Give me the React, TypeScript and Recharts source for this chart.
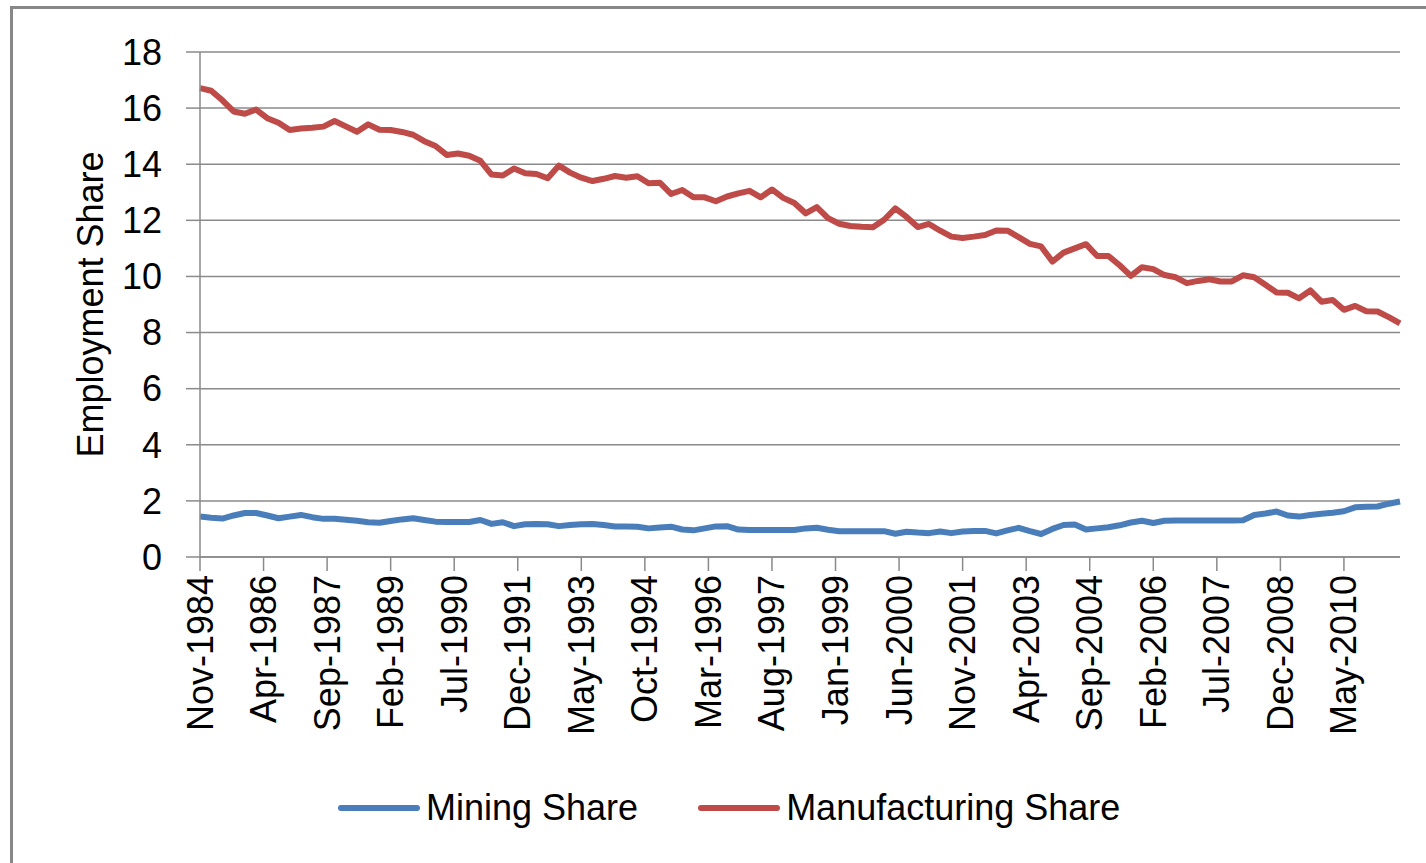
import React from 'react';
import {
  LineChart,
  Line,
  XAxis,
  YAxis,
  CartesianGrid,
  Legend,
} from 'recharts';

// quarterly readings, first point Nov-1984, last Aug-2011
const miningShare = [
  1.44, 1.40, 1.37, 1.48, 1.57, 1.57, 1.48, 1.38, 1.44, 1.50,
  1.42, 1.36, 1.36, 1.33, 1.29, 1.24, 1.22, 1.28, 1.34, 1.38,
  1.32, 1.26, 1.25, 1.25, 1.25, 1.32, 1.18, 1.24, 1.10, 1.17,
  1.18, 1.17, 1.10, 1.14, 1.17, 1.18, 1.14, 1.09, 1.09, 1.08,
  1.02, 1.05, 1.08, 0.98, 0.95, 1.02, 1.09, 1.10, 0.98, 0.96,
  0.96, 0.96, 0.96, 0.96, 1.02, 1.04, 0.97, 0.92, 0.92, 0.92,
  0.92, 0.92, 0.83, 0.90, 0.87, 0.85, 0.91, 0.85, 0.91, 0.93,
  0.93, 0.84, 0.95, 1.04, 0.92, 0.82, 1.00, 1.14, 1.16, 0.98,
  1.02, 1.06, 1.13, 1.23, 1.29, 1.21, 1.29, 1.30, 1.30, 1.30,
  1.30, 1.30, 1.30, 1.31, 1.50, 1.55, 1.62, 1.48, 1.44, 1.50,
  1.54, 1.58, 1.63, 1.77, 1.79, 1.80, 1.90, 1.98,
];

const manufacturingShare = [
  16.71, 16.62, 16.28, 15.88, 15.80, 15.95, 15.64, 15.48, 15.22, 15.27,
  15.30, 15.34, 15.54, 15.35, 15.16, 15.42, 15.23, 15.22, 15.15, 15.05,
  14.82, 14.65, 14.33, 14.38, 14.30, 14.12, 13.63, 13.60, 13.85, 13.68,
  13.65, 13.50, 13.95, 13.70, 13.52, 13.40, 13.48, 13.58, 13.52, 13.57,
  13.32, 13.34, 12.94, 13.08, 12.82, 12.82, 12.68, 12.85, 12.96, 13.05,
  12.82, 13.10, 12.80, 12.62, 12.25, 12.47, 12.08, 11.88, 11.80, 11.77,
  11.75, 12.02, 12.43, 12.12, 11.76, 11.87, 11.63, 11.42, 11.37, 11.42,
  11.48, 11.64, 11.63, 11.40, 11.16, 11.07, 10.53, 10.85, 11.00, 11.15,
  10.73, 10.73, 10.40, 10.02, 10.33, 10.26, 10.05, 9.97, 9.76, 9.84,
  9.90, 9.82, 9.82, 10.04, 9.97, 9.70, 9.43, 9.42, 9.22, 9.50,
  9.10, 9.16, 8.81, 8.95, 8.76, 8.75, 8.55, 8.33,
];

const tickLabels = [
  'Nov-1984', 'Apr-1986', 'Sep-1987', 'Feb-1989', 'Jul-1990', 'Dec-1991',
  'May-1993', 'Oct-1994', 'Mar-1996', 'Aug-1997', 'Jan-1999', 'Jun-2000',
  'Nov-2001', 'Apr-2003', 'Sep-2004', 'Feb-2006', 'Jul-2007', 'Dec-2008',
  'May-2010',
];
const seriesNames = ['Mining Share', 'Manufacturing Share'];
const labelEvery = 17; // months between labels
const stepMonths = 3; // months between data points
const yTicks = [0, 2, 4, 6, 8, 10, 12, 14, 16, 18];

const data = miningShare.map((v, i) => ({
  month: i * stepMonths,
  mining: v,
  manufacturing: manufacturingShare[i],
}));
const xTicks = tickLabels.map((_, k) => k * labelEvery);
const lastMonth = (miningShare.length - 1) * stepMonths;

const FONT = "'Liberation Sans', Arial, sans-serif";
const GRID = '#8a8a8a';
const BLUE = '#4A7EBB';
const RED = '#BE4B48';

const XTick = ({ x, y, payload }: any) => {
  const label = tickLabels[Math.round(payload.value / labelEvery)];
  return (
    <text
      x={x}
      y={y}
      transform={`rotate(-90, ${x}, ${y})`}
      textAnchor="end"
      dominantBaseline="central"
      fontSize={36}
      fontFamily={FONT}
      fill="#000"
    >
      {label}
    </text>
  );
};

const YTitle = ({ viewBox }: any) => {
  const cx = viewBox.x + 90;
  const cy = viewBox.y + viewBox.height / 2;
  return (
    <text
      x={cx}
      y={cy}
      transform={`rotate(-90, ${cx}, ${cy})`}
      textAnchor="middle"
      dominantBaseline="central"
      fontSize={36}
      fontFamily={FONT}
      fill="#000"
    >
      Employment Share
    </text>
  );
};

const LegendContent = ({ payload }: any) => {
  const items = [...(payload || [])].sort(
    (a: any, b: any) => seriesNames.indexOf(a.value) - seriesNames.indexOf(b.value)
  );
  return (
    <div style={{ display: 'flex', alignItems: 'center', height: 42 }}>
      {items.map((item: any, i: number) => (
        <div
          key={item.value}
          style={{ display: 'flex', alignItems: 'center', marginLeft: i === 0 ? 0 : 60 }}
        >
          <svg width={82} height={12}>
            <line x1={3} y1={6} x2={79} y2={6} stroke={item.color} strokeWidth={6} strokeLinecap="round" />
          </svg>
          <span style={{ fontFamily: FONT, fontSize: 36, color: '#000', marginLeft: 6, whiteSpace: 'nowrap' }}>
            {item.value}
          </span>
        </div>
      ))}
    </div>
  );
};

export default function App() {
  return (
    <div style={{ position: 'absolute', left: 0, top: 0, width: 1426, height: 863, background: '#fff' }}>
      {/* chart frame, only top and left edges are visible in the crop */}
      <div
        style={{
          position: 'absolute',
          left: 10,
          top: 6,
          width: 1440,
          height: 880,
          borderTop: '3px solid #878787',
          borderLeft: '3px solid #878787',
        }}
      />
      <LineChart
        width={1426}
        height={863}
        data={data}
        margin={{ top: 52, right: 26, bottom: 106, left: 0 }}
      >
        <CartesianGrid vertical={false} stroke={GRID} strokeWidth={1.5} />
        <XAxis
          dataKey="month"
          type="number"
          domain={[0, lastMonth]}
          ticks={xTicks}
          interval={0}
          height={200}
          tick={<XTick />}
          tickSize={14}
          tickMargin={4}
          axisLine={{ stroke: GRID, strokeWidth: 1.5 }}
          tickLine={{ stroke: GRID, strokeWidth: 1.5 }}
        />
        <YAxis
          domain={[0, 18]}
          ticks={yTicks}
          interval={0}
          width={200}
          tickSize={14}
          tickMargin={24}
          tick={{ fontSize: 36, fontFamily: FONT, fill: '#000' }}
          axisLine={{ stroke: GRID, strokeWidth: 1.5 }}
          tickLine={{ stroke: GRID, strokeWidth: 1.5 }}
          label={<YTitle />}
        />
        <Legend
          layout="horizontal"
          verticalAlign="middle"
          align="center"
          wrapperStyle={{ top: 787, left: 338, width: 900 }}
          content={<LegendContent />}
        />
        <Line
          type="linear"
          dataKey="mining"
          name="Mining Share"
          stroke={BLUE}
          strokeWidth={6}
          strokeLinejoin="round"
          dot={false}
          isAnimationActive={false}
        />
        <Line
          type="linear"
          dataKey="manufacturing"
          name="Manufacturing Share"
          stroke={RED}
          strokeWidth={6}
          strokeLinejoin="round"
          dot={false}
          isAnimationActive={false}
        />
      </LineChart>
    </div>
  );
}
